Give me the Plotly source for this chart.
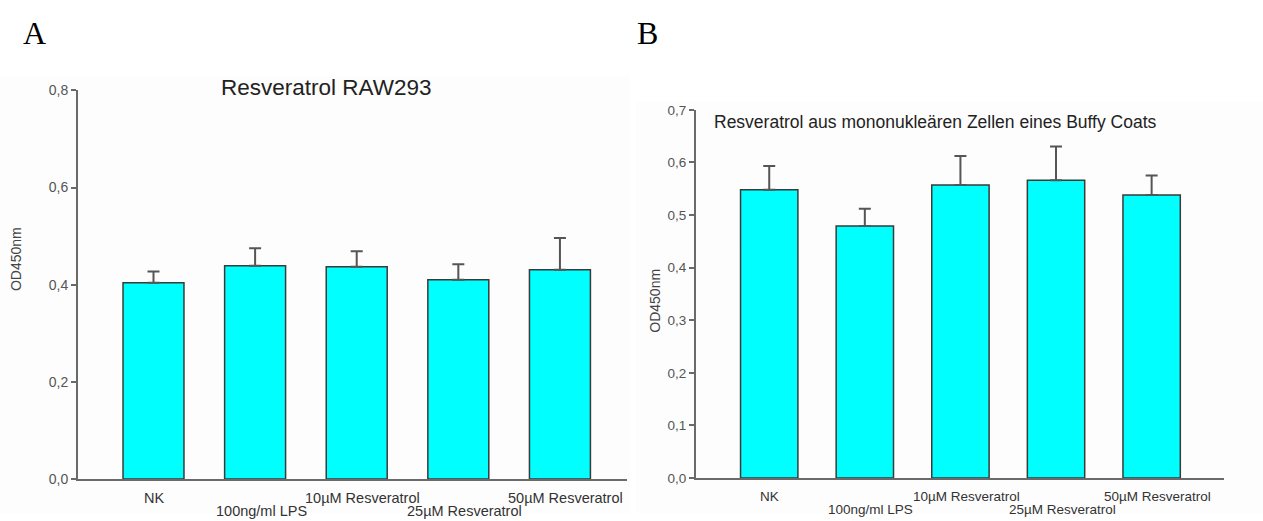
import plotly.graph_objects as go

categories = ["NK", "100ng/ml LPS", "10µM Resveratrol", "25µM Resveratrol", "50µM Resveratrol"]
label_rows = [0, 1, 0, 1, 0]

raw_means = [0.404, 0.439, 0.437, 0.410, 0.431]
raw_err = [0.023, 0.036, 0.032, 0.032, 0.065]

buffy_means = [0.548, 0.479, 0.557, 0.566, 0.538]
buffy_err = [0.045, 0.033, 0.055, 0.064, 0.037]

a_tickvals = [0.0, 0.2, 0.4, 0.6, 0.8]
a_ticktext = ["0,0", "0,2", "0,4", "0,6", "0,8"]
b_tickvals = [0.0, 0.1, 0.2, 0.3, 0.4, 0.5, 0.6, 0.7]
b_ticktext = ["0,0", "0,1", "0,2", "0,3", "0,4", "0,5", "0,6", "0,7"]

title_a = "Resveratrol RAW293"
title_b = "Resveratrol aus mononukleären Zellen eines Buffy Coats"
ytitle = "OD450nm"

W, H = 1263, 521
xs = list(range(len(categories)))

BAR = "#00FFFF"
EDGE = "#3a3a3a"
AX = "#6a6a6a"
TXT = "#444444"
FONT = "Liberation Sans, Arial, sans-serif"

fig = go.Figure()

def add_bars(means, errs, xa, ya):
    fig.add_trace(go.Bar(
        x=xs, y=means, width=0.6, xaxis=xa, yaxis=ya,
        marker=dict(color=BAR, line=dict(color=EDGE, width=1.5)),
        error_y=dict(type="data", array=errs, arrayminus=[0] * len(errs), symmetric=False,
                     color="#555555", thickness=2, width=6),
        showlegend=False, hoverinfo="skip",
    ))

add_bars(raw_means, raw_err, "x", "y")
add_bars(buffy_means, buffy_err, "x2", "y2")

def py(v):
    return (H - v) / H

def px(v):
    return v / W

dA_x = [px(78), px(627)]
dA_y = [py(486), py(85)]
dB_x = [px(696), px(1224)]
dB_y = [py(485), py(105)]

axis_common = dict(showgrid=False, zeroline=False, showline=True, linecolor=AX, linewidth=2)

fig.update_layout(
    width=W, height=H,
    margin=dict(l=0, r=0, t=0, b=0),
    paper_bgcolor="white", plot_bgcolor="rgba(0,0,0,0)",
    font=dict(family=FONT, color=TXT),
    bargap=0.4,
    xaxis=dict(domain=dA_x, range=[-0.743, 4.66], showticklabels=False, ticks="", anchor="y", **axis_common),
    yaxis=dict(domain=dA_y, range=[0, 0.8], tickvals=a_tickvals, ticktext=a_ticktext,
               ticks="outside", ticklen=5, tickwidth=2, tickcolor=AX, anchor="x",
               tickfont=dict(size=14, color="#555555"), **axis_common),
    xaxis2=dict(domain=dB_x, range=[-0.766, 4.757], showticklabels=False, ticks="", anchor="y2", **axis_common),
    yaxis2=dict(domain=dB_y, range=[0, 0.7], tickvals=b_tickvals, ticktext=b_ticktext,
                ticks="outside", ticklen=5, tickwidth=2, tickcolor=AX, anchor="x2",
                tickfont=dict(size=13.5, color="#555555"), **axis_common),
)

# faint panel backgrounds
fig.add_shape(type="rect", xref="paper", yref="paper", x0=0, x1=px(630), y0=0, y1=py(70),
              fillcolor="#fdfdfd", line=dict(width=0), layer="below")
fig.add_shape(type="rect", xref="paper", yref="paper", x0=px(636), x1=1, y0=0, y1=py(97),
              fillcolor="#fdfdfd", line=dict(width=0), layer="below")

ann = []
serif = "Liberation Serif, Times New Roman, serif"
ann.append(dict(text="A", x=px(21), y=py(26), xref="paper", yref="paper", xanchor="left", yanchor="middle",
                showarrow=False, font=dict(family=serif, size=32, color="black")))
ann.append(dict(text="B", x=px(635), y=py(26), xref="paper", yref="paper", xanchor="left", yanchor="middle",
                showarrow=False, font=dict(family=serif, size=32, color="black")))
ann.append(dict(text=title_a, x=px(326), y=py(82), xref="paper", yref="paper", xanchor="center", yanchor="middle",
                showarrow=False, font=dict(size=22.5, color="#222222")))
ann.append(dict(text=title_b, x=px(935), y=py(118), xref="paper", yref="paper", xanchor="center", yanchor="middle",
                showarrow=False, font=dict(size=17.5, color="#222222")))
ann.append(dict(text=ytitle, x=px(16), y=py(259), xref="paper", yref="paper", xanchor="center", yanchor="middle",
                textangle=-90, showarrow=False, font=dict(size=14, color="#444444")))
ann.append(dict(text=ytitle, x=px(655), y=py(302), xref="paper", yref="paper", xanchor="center", yanchor="middle",
                textangle=-90, showarrow=False, font=dict(size=14, color="#444444")))
for xa, dom, fs in (("x", dA_y, 14.5), ("x2", dB_y, 13.5)):
    for i, (c, r) in enumerate(zip(categories, label_rows)):
        ann.append(dict(text=c, x=i, xref=xa, y=dom[0], yref="paper", xanchor="center", yanchor="top",
                        yshift=-9 - 13 * r, xshift=6 if i else 0, showarrow=False,
                        font=dict(size=fs, color="#333333")))

fig.update_layout(annotations=ann)
fig.write_html("out.html")
